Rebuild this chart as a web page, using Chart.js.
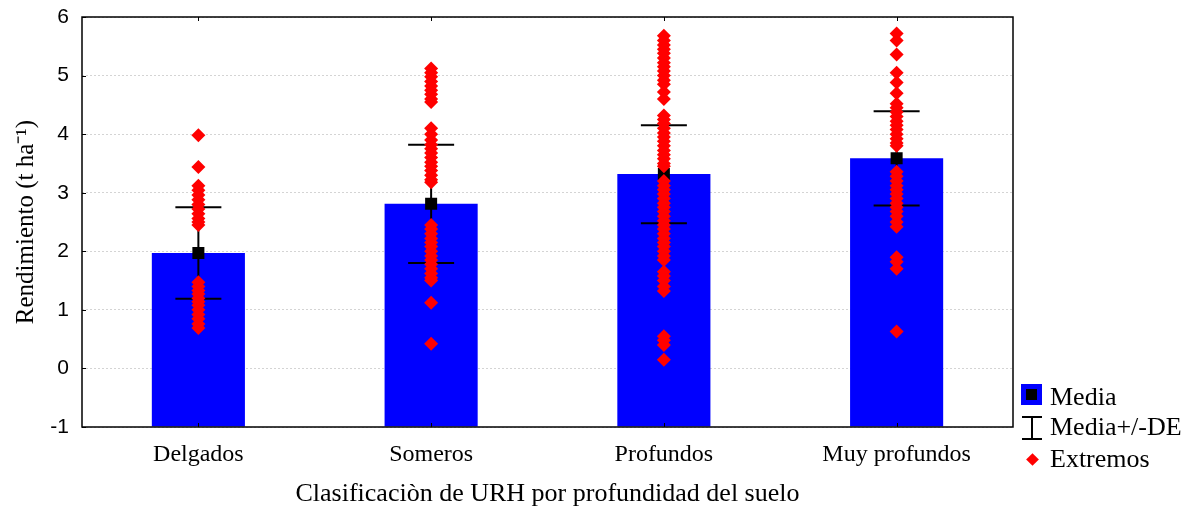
<!DOCTYPE html>
<html>
<head>
<meta charset="utf-8">
<script src="https://cdn.jsdelivr.net/npm/chart.js@4/dist/chart.umd.min.js"></script>
<style>
  body { margin: 0; background: #fff; overflow: hidden; }
  #wrap { position: relative; width: 1196px; height: 510px; }
  .legend-text { position: absolute; left: 1050px; font: 26px "Liberation Serif", serif; line-height: 26px; color: #000; white-space: nowrap; }
  .ico { position: absolute; }
</style>
</head>
<body>
<div id="wrap">
  <canvas id="chart" width="1196" height="510"></canvas>

  <!-- legend -->
  <div class="ico" style="left:1021px;top:384px;width:21px;height:21px;background:#0000ff;"></div>
  <div class="ico" style="left:1026px;top:389px;width:11px;height:11px;background:#000;"></div>
  <span class="legend-text" style="top:384px;">Media</span>

  <div class="ico" style="left:1022px;top:416px;width:20px;height:2px;background:#000;"></div>
  <div class="ico" style="left:1031px;top:416px;width:2px;height:23px;background:#000;"></div>
  <div class="ico" style="left:1022px;top:438px;width:20px;height:2px;background:#000;"></div>
  <span class="legend-text" style="top:414px;">Media+/-DE</span>

  <div class="ico" style="left:1028px;top:455px;width:9px;height:9px;background:#ff0000;transform:rotate(45deg);"></div>
  <span class="legend-text" style="top:446px;">Extremos</span>
</div>

<script>
const categories = ['Delgados', 'Someros', 'Profundos', 'Muy profundos'];
const means = [1.97, 2.81, 3.32, 3.59];
const sdUpper = [2.75, 3.82, 4.15, 4.39];
const sdLower = [1.19, 1.80, 2.48, 2.78];

// extreme values per category
const extDelgados = [3.98, 3.44, 3.12, 3.04, 2.96, 2.88, 2.8, 2.72, 2.64, 2.56, 2.5, 2.45,
  1.47, 1.4, 1.33, 1.27, 1.2, 1.14, 1.08, 1.0, 0.92, 0.85, 0.76, 0.69];
const extSomeros = [5.12, 5.05, 4.98, 4.9, 4.82, 4.75, 4.68, 4.6, 4.55,
  4.1, 4.0, 3.9, 3.82, 3.75, 3.68, 3.6, 3.52, 3.45, 3.38, 3.3, 3.22, 3.18,
  2.45, 2.38, 2.3, 2.22, 2.15, 2.08, 2.0, 1.92, 1.85, 1.78, 1.7, 1.62, 1.55, 1.5,
  1.12, 0.42];
const extProfundos = [5.68, 5.6, 5.52, 5.45, 5.38, 5.3, 5.22, 5.15, 5.08, 5.0, 4.92, 4.85, 4.72, 4.6,
  4.32, 4.25, 4.18, 4.1, 4.02, 3.95, 3.88, 3.8, 3.72, 3.65, 3.58, 3.5, 3.45,
  3.2, 3.12, 3.05, 2.98, 2.9, 2.82, 2.75, 2.68, 2.6, 2.52, 2.45, 2.38, 2.3, 2.22, 2.15, 2.08, 2.0, 1.92, 1.85,
  1.65, 1.58, 1.5, 1.4, 1.32, 0.55, 0.48, 0.4, 0.15];
const extMuyProfundos = [5.72, 5.6, 5.36, 5.05, 4.88, 4.7,
  4.52, 4.45, 4.38, 4.3, 4.22, 4.15, 4.08, 4.0, 3.92, 3.85, 3.8,
  3.36, 3.28, 3.2, 3.12, 3.05, 2.98, 2.9, 2.82, 2.75, 2.68, 2.6, 2.5, 2.42,
  1.9, 1.82, 1.7, 0.63];
const extremos = [extDelgados, extSomeros, extProfundos, extMuyProfundos];

const yMin = -1;
const yMax = 6;

const extremosPoints = [];
extremos.forEach(function(list, i) {
    list.forEach(function(v) {
        extremosPoints.push({ x: categories[i], y: v });
    });
});

// error bars, frame and inward ticks
const errorBarPlugin = {
    id: 'errorBars',
    beforeDatasetDraw: function(chart, args) {
        if (args.index !== 1) return;
        const ctx = chart.ctx;
        const xs = chart.scales.x;
        const ys = chart.scales.y;
        ctx.save();
        ctx.strokeStyle = '#000';
        ctx.lineWidth = 2;
        categories.forEach(function(cat, i) {
            const x = xs.getPixelForValue(i);
            const yHi = ys.getPixelForValue(sdUpper[i]);
            const yLo = ys.getPixelForValue(sdLower[i]);
            ctx.beginPath();
            ctx.moveTo(x, yHi);
            ctx.lineTo(x, yLo);
            ctx.moveTo(x - 23, yHi);
            ctx.lineTo(x + 23, yHi);
            ctx.moveTo(x - 23, yLo);
            ctx.lineTo(x + 23, yLo);
            ctx.stroke();
        });
        ctx.restore();
    },
    afterDraw: function(chart) {
        const ctx = chart.ctx;
        const a = chart.chartArea;
        const xs = chart.scales.x;
        const ys = chart.scales.y;
        ctx.save();
        ctx.strokeStyle = '#000';
        ctx.lineWidth = 1.5;
        ctx.strokeRect(a.left, a.top, a.right - a.left, a.bottom - a.top);
        ctx.lineWidth = 1;
        ctx.beginPath();
        categories.forEach(function(cat, i) {
            const x = Math.round(xs.getPixelForValue(i)) + 0.5;
            ctx.moveTo(x, a.bottom);
            ctx.lineTo(x, a.bottom - 4);
            ctx.moveTo(x, a.top);
            ctx.lineTo(x, a.top + 4);
        });
        for (let v = yMin; v <= yMax; v++) {
            const y = Math.round(ys.getPixelForValue(v)) + 0.5;
            ctx.moveTo(a.left, y);
            ctx.lineTo(a.left + 4, y);
        }
        ctx.stroke();
        ctx.restore();
    }
};

const chart = new Chart(document.getElementById('chart'), {
    data: {
        labels: categories,
        datasets: [
            {
                type: 'bar',
                label: 'Media',
                data: means,
                base: yMin,
                backgroundColor: '#0000ff',
                borderWidth: 0,
                barPercentage: 0.4,
                categoryPercentage: 1,
                order: 3
            },
            {
                type: 'line',
                label: 'Media',
                data: means,
                showLine: false,
                pointStyle: 'rect',
                pointRadius: 8.5,
                pointBackgroundColor: '#000',
                pointBorderWidth: 0,
                order: 1
            },
            {
                type: 'line',
                label: 'Extremos',
                data: extremosPoints,
                showLine: false,
                pointStyle: 'rectRot',
                pointRadius: 7,
                pointBackgroundColor: '#ff0000',
                pointBorderWidth: 0,
                order: 0
            }
        ]
    },
    options: {
        responsive: false,
        animation: false,
        layout: { padding: { left: 0, top: 17, right: 183, bottom: 0 } },
        plugins: {
            legend: { display: false },
            tooltip: { enabled: false }
        },
        scales: {
            x: {
                type: 'category',
                offset: true,
                afterFit: function(scale) {
                    scale.height = 83;
                    scale.paddingLeft = 0;
                    scale.paddingRight = 0;
                },
                grid: { display: false, drawTicks: false },
                border: { display: false },
                ticks: {
                    color: '#000',
                    padding: 13,
                    font: { family: '"Liberation Serif", serif', size: 24 }
                },
                title: {
                    display: true,
                    text: 'Clasificaciòn de URH por profundidad del suelo',
                    color: '#000',
                    padding: { top: 0, bottom: 0 },
                    font: { family: '"Liberation Serif", serif', size: 26 }
                }
            },
            y: {
                min: yMin,
                max: yMax,
                afterFit: function(scale) {
                    scale.width = 82;
                    scale.paddingTop = 0;
                    scale.paddingBottom = 0;
                },
                grid: { color: '#d4d4d4', lineWidth: 1, drawTicks: false },
                border: { display: false, dash: [2, 2] },
                ticks: {
                    stepSize: 1,
                    color: '#000',
                    padding: 13,
                    font: { family: '"Liberation Sans", Arial, sans-serif', size: 21 }
                },
                title: {
                    display: true,
                    text: 'Rendimiento (t ha⁻¹)',
                    color: '#000',
                    padding: { top: 11, bottom: 0 },
                    font: { family: '"Liberation Serif", serif', size: 25 }
                }
            }
        }
    },
    plugins: [errorBarPlugin]
});
</script>
</body>
</html>
